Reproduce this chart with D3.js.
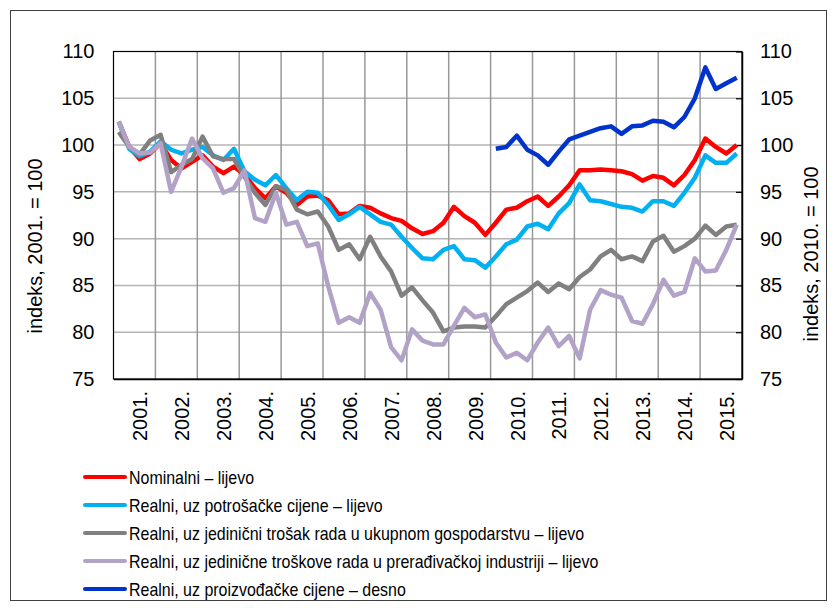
<!DOCTYPE html>
<html>
  <head>
    <meta charset="utf-8">
    <script src="https://d3js.org/d3.v7.min.js"></script>
    <style>
      body { margin: 0; background: #fff; }
      text { font-family: "Liberation Sans", Arial, sans-serif; fill: #000; }
      .tick-label { font-size: 20px; }
      .axis-label { font-size: 20px; }
      .legend-text { font-size: 19px; }
    </style>
  </head>
  <body>
    <div id="chart"></div>
    <script>
      const years = ["2001.", "2002.", "2003.", "2004.", "2005.", "2006.", "2007.", "2008.",
                     "2009.", "2010.", "2011.", "2012.", "2013.", "2014.", "2015."];
      const quarters = [];
      years.forEach((y) => [1, 2, 3, 4].forEach((q) => quarters.push(y + "Q" + q)));

      const leftTicks = [75, 80, 85, 90, 95, 100, 105, 110];
      const rightTicks = [75, 80, 85, 90, 95, 100, 105, 110];

      const nominal = [102.5, 99.8, 98.5, 99.1, 100.2, 98.4, 97.5, 98.2, 98.9, 97.7, 97.0, 97.7,
        96.8, 95.4, 94.3, 95.6, 94.9, 93.6, 94.5, 94.6, 94.1, 92.6, 92.7, 93.5,
        93.3, 92.7, 92.2, 91.9, 91.1, 90.5, 90.8, 91.7, 93.4, 92.4, 91.7, 90.4,
        91.7, 93.1, 93.3, 94.0, 94.5, 93.5, 94.5, 95.7, 97.3, 97.3, 97.4, 97.3,
        97.2, 96.9, 96.2, 96.7, 96.5, 95.7, 96.8, 98.4, 100.7, 99.8, 99.1, 100.0];
      const consumer = [102.5, 99.6, 98.8, 99.3, 100.4, 99.5, 99.1, 99.5, 99.8, 98.9, 98.4, 99.6,
        97.2, 96.3, 95.7, 96.8, 95.4, 94.1, 95.0, 94.9, 93.6, 92.0, 92.6, 93.4,
        92.6, 91.8, 91.5, 90.2, 89.0, 87.9, 87.8, 88.8, 89.2, 87.8, 87.7, 86.9,
        88.1, 89.4, 89.9, 91.3, 91.6, 91.0, 92.7, 93.8, 95.8, 94.1, 94.0, 93.7,
        93.4, 93.3, 92.9, 94.0, 94.0, 93.5, 94.9, 96.5, 98.9, 98.1, 98.1, 99.1];
      const ulcTotal = [101.4, 99.8, 99.0, 100.5, 101.1, 97.1, 97.9, 98.5, 100.9, 98.8, 98.5, 98.5,
        96.6, 94.9, 93.6, 95.6, 95.2, 93.1, 92.6, 92.9, 91.3, 88.8, 89.4, 87.8,
        90.2, 88.1, 86.5, 83.9, 84.8, 83.4, 82.1, 80.1, 80.5, 80.6, 80.6, 80.5,
        81.7, 83.0, 83.7, 84.4, 85.3, 84.3, 85.2, 84.6, 85.9, 86.7, 88.1, 88.8,
        87.8, 88.1, 87.6, 89.7, 90.3, 88.6, 89.2, 90.0, 91.4, 90.4, 91.3, 91.5];
      const ulcManuf = [102.5, 99.8, 99.1, 99.2, 100.2, 95.0, 97.7, 100.7, 98.6, 97.5, 94.9, 95.4,
        97.3, 92.2, 91.8, 94.9, 91.5, 91.8, 89.2, 89.5, 84.9, 81.0, 81.6, 81.0,
        84.2, 82.4, 78.4, 77.0, 80.3, 79.1, 78.7, 78.7, 80.7, 82.6, 81.6, 81.9,
        78.9, 77.3, 77.8, 77.0, 78.9, 80.5, 78.5, 79.6, 77.2, 82.4, 84.5, 84.0,
        83.7, 81.2, 80.9, 83.0, 85.6, 83.9, 84.3, 87.9, 86.5, 86.6, 88.8, 91.5];
      const producer = [null, null, null, null, null, null, null, null, null, null, null, null,
        null, null, null, null, null, null, null, null, null, null, null, null,
        null, null, null, null, null, null, null, null, null, null, null, null,
        99.6, 99.8, 101.0, 99.5, 98.9, 97.9, 99.3, 100.6, 101.0, 101.4, 101.8, 102.0,
        101.2, 102.0, 102.1, 102.6, 102.5, 101.9, 103.0, 105.0, 108.3, 106.0, 106.6, 107.2];

      const seriesNames = [
        "Nominalni – lijevo",
        "Realni, uz potrošačke cijene – lijevo",
        "Realni, uz jedinični trošak rada u ukupnom gospodarstvu – lijevo",
        "Realni, uz jedinične troškove rada u prerađivačkoj industriji – lijevo",
        "Realni, uz proizvođačke cijene – desno"
      ];
      const seriesColors = ["#ff0000", "#00b0f0", "#808080", "#b3a2c7", "#0033cc"];
      const seriesValues = [nominal, consumer, ulcTotal, ulcManuf, producer];
      const seriesAxis = ["left", "left", "left", "left", "right"];

      const W = 834, H = 608;
      const margin = { top: 51.5, right: 92, bottom: 229, left: 113.5 };
      const width = W - margin.left - margin.right;
      const height = H - margin.top - margin.bottom;

      const svg = d3.select("#chart").append("svg")
        .attr("width", W).attr("height", H);

      // outer frame
      svg.append("rect")
        .attr("x", 10.5).attr("y", 10.5)
        .attr("width", 816).attr("height", 590)
        .attr("fill", "none").attr("stroke", "#404040").attr("stroke-width", 1);

      const g = svg.append("g").attr("transform", `translate(${margin.left},${margin.top})`);

      const xYear = d3.scaleBand().domain(years).range([0, width]);
      const x = d3.scaleBand().domain(quarters).range([0, width]);
      const yL = d3.scaleLinear().domain([75, 110]).range([height, 0]);
      const yR = d3.scaleLinear().domain([75, 110]).range([height, 0]);

      // horizontal gridlines
      g.append("g").selectAll("line").data(leftTicks.slice(1, -1)).enter().append("line")
        .attr("x1", 0).attr("x2", width)
        .attr("y1", (d) => yL(d)).attr("y2", (d) => yL(d))
        .attr("stroke", "#b4b4b4").attr("stroke-width", 1.5);

      // vertical gridlines at year boundaries
      g.append("g").selectAll("line").data(years.slice(1)).enter().append("line")
        .attr("x1", (d) => xYear(d)).attr("x2", (d) => xYear(d))
        .attr("y1", 0).attr("y2", height)
        .attr("stroke", "#989898").attr("stroke-width", 1.5);

      // plot frame
      g.append("rect").attr("width", width).attr("height", height)
        .attr("fill", "none").attr("stroke", "#000").attr("stroke-width", 1.2);

      // left axis
      const axL = g.append("g").call(d3.axisLeft(yL).tickValues(leftTicks).tickSize(0).tickPadding(19));
      axL.select(".domain").remove();
      axL.selectAll("text").attr("class", "tick-label").attr("font-size", null).attr("font-family", null);

      // right axis
      const axR = g.append("g").attr("transform", `translate(${width},0)`)
        .call(d3.axisRight(yR).tickValues(rightTicks).tickSizeInner(-6).tickSizeOuter(0).tickPadding(18));
      axR.select(".domain").attr("stroke", "#000").attr("stroke-width", 1.5);
      axR.selectAll(".tick line").attr("stroke", "#000").attr("stroke-width", 1.2);
      axR.selectAll("text").attr("class", "tick-label").attr("font-size", null).attr("font-family", null);

      // bottom axis labels (rotated)
      const axB = g.append("g").attr("transform", `translate(0,${height})`)
        .call(d3.axisBottom(xYear).tickSize(0).tickPadding(0));
      axB.select(".domain").attr("stroke", "#000").attr("stroke-width", 1.5);
      axB.selectAll("text")
        .attr("class", "tick-label").attr("font-size", null).attr("font-family", null)
        .attr("text-anchor", "end")
        .attr("transform", "translate(6,12) rotate(-90)")
        .attr("dy", "0.35em").attr("y", 0).attr("x", 0);

      // lines
      seriesValues.forEach((vals, k) => {
        const yS = seriesAxis[k] === "left" ? yL : yR;
        const line = d3.line()
          .defined((d) => d != null)
          .x((d, i) => x(quarters[i]) + x.bandwidth() / 2)
          .y((d) => yS(d));
        g.append("path").datum(vals)
          .attr("fill", "none")
          .attr("stroke", seriesColors[k])
          .attr("stroke-width", 4.5)
          .attr("stroke-linejoin", "round")
          .attr("d", line);
      });

      // axis titles
      svg.append("text").attr("class", "axis-label")
        .attr("transform", "translate(42,246) rotate(-90)")
        .attr("text-anchor", "middle")
        .text("indeks, 2001. = 100");
      svg.append("text").attr("class", "axis-label")
        .attr("transform", "translate(818,254) rotate(-90)")
        .attr("text-anchor", "middle")
        .text("indeks, 2010. = 100");

      // legend
      const legend = svg.append("g").attr("transform", "translate(85,477)");
      seriesNames.forEach((name, k) => {
        const row = legend.append("g").attr("transform", `translate(0,${k * 28})`);
        row.append("line").attr("x1", 0).attr("x2", 40).attr("y1", 0).attr("y2", 0)
          .attr("stroke", seriesColors[k]).attr("stroke-width", 4).attr("stroke-linecap", "round");
        const t = row.append("text").attr("class", "legend-text")
          .attr("x", 44).attr("y", 0).attr("dy", "0.36em")
          .text(name);
        // source font is a bit condensed
        const len = t.node().getComputedTextLength();
        t.attr("textLength", len * 0.84).attr("lengthAdjust", "spacingAndGlyphs");
      });
    </script>
  </body>
</html>
